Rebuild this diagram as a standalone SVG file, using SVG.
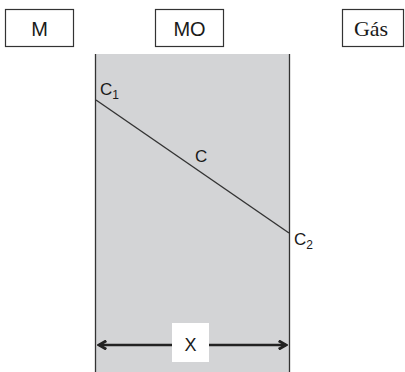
<svg xmlns="http://www.w3.org/2000/svg" width="405" height="372" viewBox="0 0 405 372">
<defs>
<style>
.box{fill:#fff;stroke:#333;stroke-width:1.2}
.sans{font-family:"Liberation Sans",Arial,sans-serif;fill:#1a1a1a}
.serif{font-family:"Liberation Serif","Times New Roman",serif;fill:#1a1a1a}
</style>
<marker id="ah" viewBox="0 0 10 10" refX="8.5" refY="5" markerWidth="4" markerHeight="4" orient="auto-start-reverse" markerUnits="strokeWidth">
<path d="M1.5,1 L8.5,5 L1.5,9" fill="none" stroke="#222" stroke-width="2.8" stroke-linejoin="miter"/>
</marker>
</defs>
<rect width="405" height="372" fill="#fff"/>
<g id="M"><rect class="box" x="5.5" y="9.5" width="68" height="37"/><text class="sans" x="39.5" y="36" font-size="20" text-anchor="middle">M</text></g>
<g id="MO"><rect class="box" x="155.5" y="9.5" width="68" height="37"/><text class="sans" x="189.5" y="36" font-size="20" text-anchor="middle">MO</text></g>
<g id="Gas"><rect class="box" x="342.5" y="9.5" width="61" height="37"/><text class="serif" x="371" y="36" font-size="22" text-anchor="middle">Gás</text></g>
<g id="membrane">
<rect x="95" y="54" width="195" height="320" fill="#d3d4d6"/>
<line x1="95.5" y1="54" x2="95.5" y2="372" stroke="#333" stroke-width="1.3"/>
<line x1="289.5" y1="54" x2="289.5" y2="372" stroke="#333" stroke-width="1.3"/>
</g>
<g id="connectors">
<line x1="96" y1="100" x2="289" y2="233" stroke="#333" stroke-width="1.4"/>
<line x1="99" y1="345" x2="286" y2="345" stroke="#222" stroke-width="2.6" marker-start="url(#ah)" marker-end="url(#ah)"/>
</g>
<g id="C1"><text class="sans" x="100" y="95" font-size="17">C<tspan font-size="12" dy="4">1</tspan></text></g>
<g id="C"><text class="sans" x="195" y="162" font-size="17">C</text></g>
<g id="C2"><text class="sans" x="294" y="245" font-size="17">C<tspan font-size="12" dy="4">2</tspan></text></g>
<g id="X"><rect x="172" y="323" width="37" height="39" fill="#fff"/><text class="sans" x="190.5" y="351" font-size="18" text-anchor="middle">X</text></g>
</svg>
